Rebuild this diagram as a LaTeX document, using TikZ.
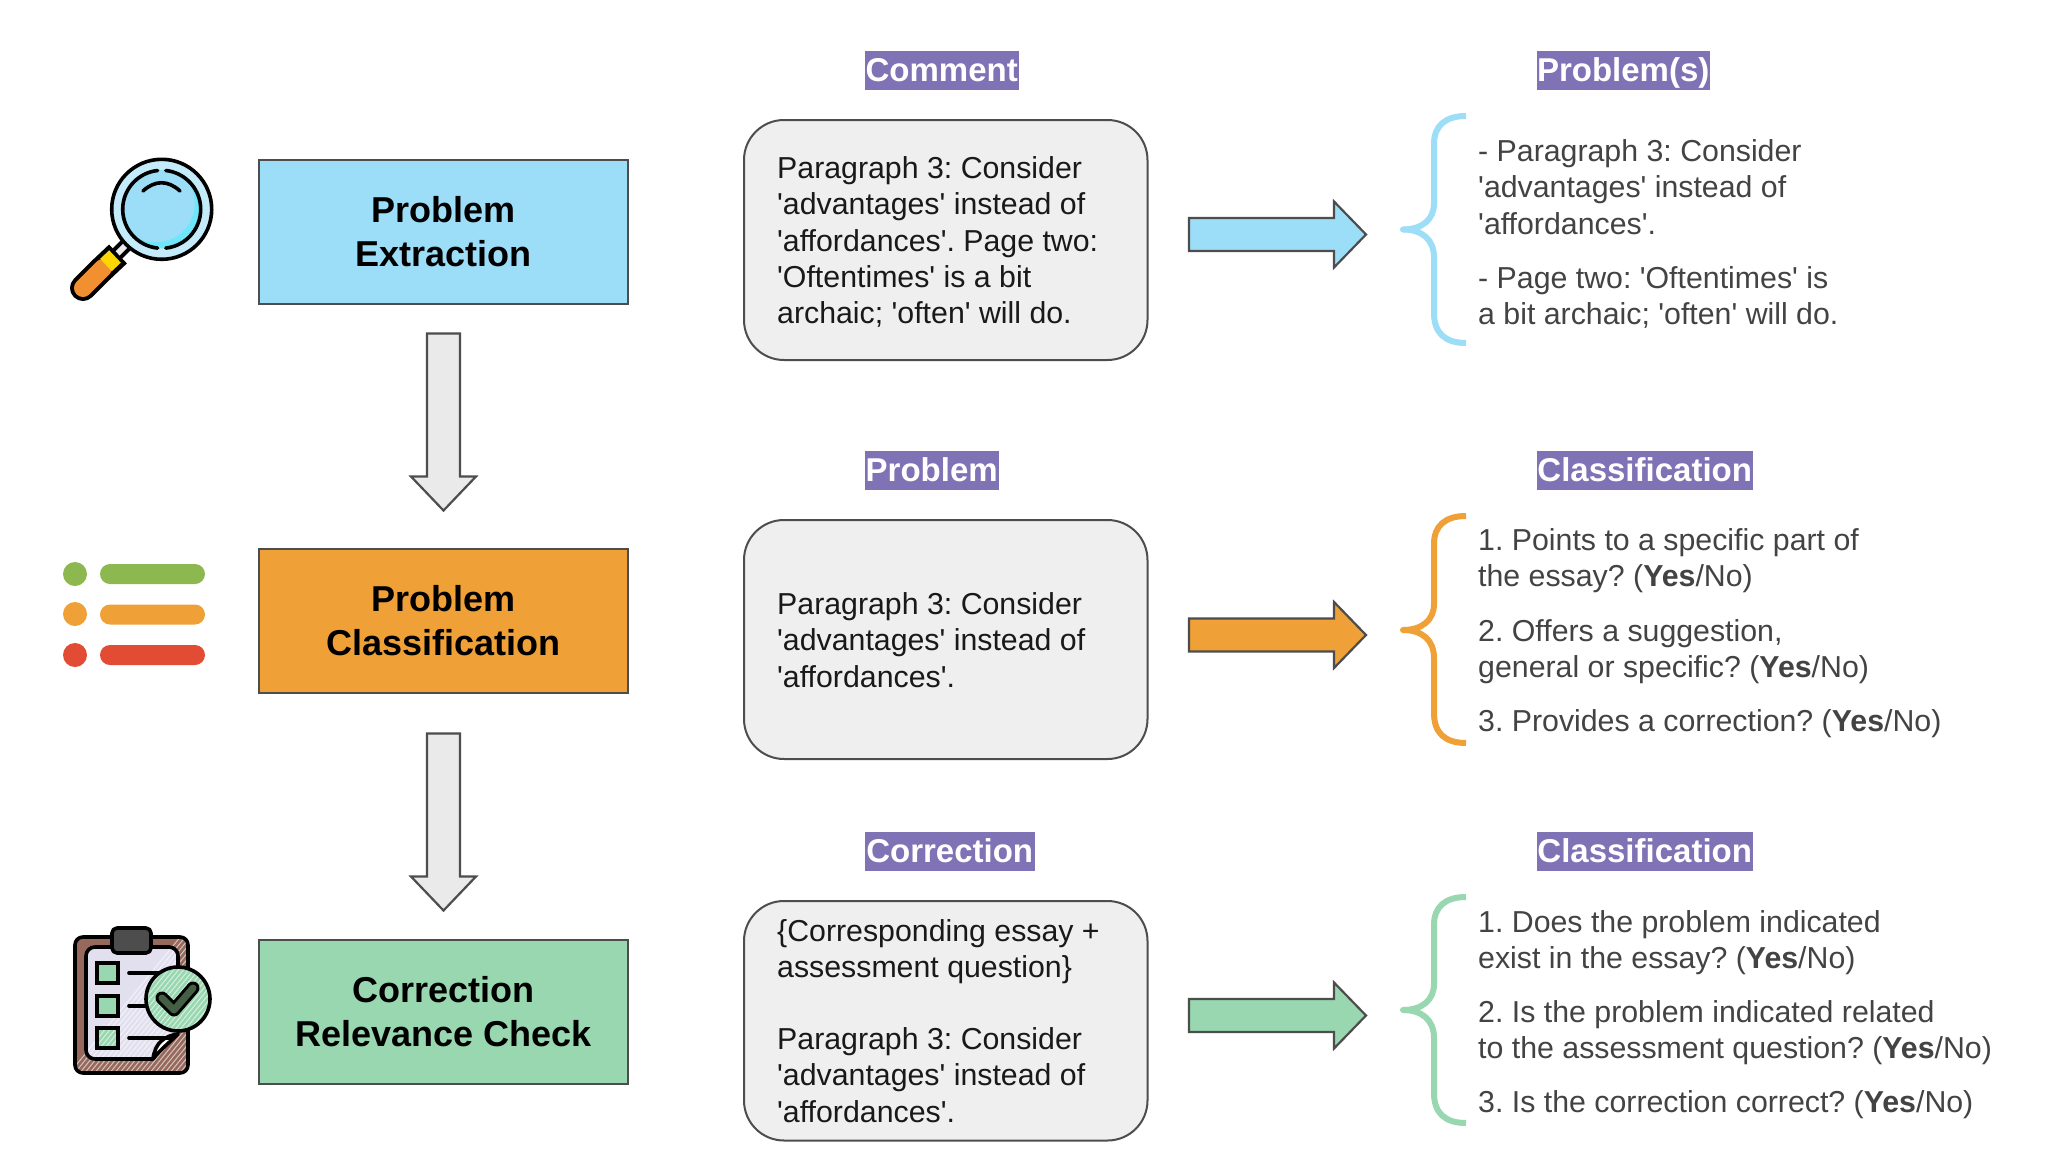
\documentclass[tikz,border=0pt]{standalone}
\usepackage{fontspec}
\newfontfamily\lib{Liberation Sans}
\frenchspacing
\definecolor{cblue}{HTML}{9CDDF7}
\definecolor{corange}{HTML}{EFA036}
\definecolor{cgreen}{HTML}{98D7B0}
\definecolor{cpurple}{HTML}{7F72B5}
\definecolor{cgrey}{HTML}{EAEAEA}
\definecolor{cline}{HTML}{4D4D4D}
\definecolor{ctext}{HTML}{434343}
\definecolor{cbrown}{HTML}{96695C}
\definecolor{cpaper}{HTML}{E2E0EF}
\definecolor{cleaf}{HTML}{8DB84F}
\definecolor{cred}{HTML}{E34C34}
\tikzset{
  stagebox/.style={draw=cline,line width=2.4pt,minimum width=369pt,minimum height=144pt,inner sep=0pt,align=center,
    font=\lib\bfseries\fontsize{36}{44}\selectfont,text=black},
  bubble/.style={draw=cline,line width=2pt,fill=cgrey!75!white,rounded corners=40pt,inner sep=0pt},
  tag/.style={fill=cpurple,text=white,inner sep=0pt,minimum height=39pt,text height=27pt,text depth=6pt,anchor=west,
    font=\lib\bfseries\fontsize{33}{39}\selectfont},
  midtext/.style={anchor=north west,inner sep=0pt,align=left,text=black!90,
    font=\lib\fontsize{30.3}{36.2}\selectfont},
  sidetext/.style={anchor=north west,inner sep=0pt,align=left,text=ctext,
    font=\lib\fontsize{30.3}{36.2}\selectfont},
  blockarrow/.style={draw=cline,line width=2.2pt,line join=miter},
  bracket/.style={line width=6pt},
  ink/.style={draw=black,line width=3.6pt,line join=round,line cap=round},
}
\newcommand{\rightblock}[2]{\draw[blockarrow,fill=#1] (1189,#2-16.5) -- (1334,#2-16.5) -- (1334,#2-33) -- (1366,#2) -- (1334,#2+33) -- (1334,#2+16.5) -- (1189,#2+16.5) -- cycle;}
\newcommand{\downblock}[2]{\draw[blockarrow,fill=cgrey] (427,#1) -- (460,#1) -- (460,#2-34) -- (476,#2-34) -- (443.5,#2) -- (411,#2-34) -- (427,#2-34) -- cycle;}
\newcommand{\sidebrace}[4]{\draw[bracket,draw=#1] (1466,#2) .. controls (1445,#2) and (1434,#2+10) .. (1434,#2+28) -- (1434,#3-26) .. controls (1434,#3-10) and (1422,#3) .. (1403,#3) .. controls (1422,#3) and (1434,#3+10) .. (1434,#3+28) -- (1434,#4-30) .. controls (1434,#4-10) and (1445,#4) .. (1466,#4);
  \fill[#1] (1403,#3) circle (3pt);}
\newcommand{\hatchlines}{\foreach \i in {0,5,...,260}{\draw[white,opacity=.6,line width=1pt] (60+\i,1085) -- (60+\i+130,925);}}
\begin{document}
\begin{tikzpicture}[x=1pt,y=-1pt]
\useasboundingbox (0,0) rectangle (2046,1154);
\fill[white] (0,0) rectangle (2046,1154);

% stage boxes
\node[stagebox,fill=cblue] (extract) at (443.5,232) {Problem\\Extraction};
\node[stagebox,fill=corange] (classify) at (443.5,621) {Problem\\Classification};
\node[stagebox,fill=cgreen] (relevance) at (443.5,1012) {Correction\\Relevance Check};
\downblock{333.5}{510.5}
\downblock{733.5}{910.5}

% bubbles
\draw[bubble] (744,120) rectangle (1147.5,360);
\draw[bubble] (744,520) rectangle (1147.5,759);
\draw[bubble] (744,901) rectangle (1147.5,1140.5);
\node[midtext] (t1) at (777,156.5) {Paragraph 3: Consider\\'advantages' instead of\\'affordances'. Page two:\\'Oftentimes' is a bit\\archaic; 'often' will do.};
\node[midtext] (t2) at (777,592.5) {Paragraph 3: Consider\\'advantages' instead of\\'affordances'.};
\node[midtext] (t3) at (777,919) {\{Corresponding essay +\\assessment question\}\\[36.2pt]Paragraph 3: Consider\\'advantages' instead of\\'affordances'.};

% tags
\node[tag,minimum width=154pt] (l1) at (864.5,70.5) {Comment};
\node[tag,minimum width=134pt] (l2) at (864.5,470.5) {Problem};
\node[tag,minimum width=170pt] (l3) at (864.5,851.5) {Correction};
\node[tag,minimum width=173pt] (r1) at (1536.5,70.5) {Problem(s)};
\node[tag,minimum width=216pt] (r2) at (1536.5,470.5) {Classification};
\node[tag,minimum width=216pt] (r3) at (1536.5,851.5) {Classification};

% right arrows and braces
\rightblock{cblue}{234.5}
\rightblock{corange}{635}
\rightblock{cgreen}{1015.5}
\sidebrace{cblue}{116}{229.5}{343}
\sidebrace{corange}{516}{630}{743}
\sidebrace{cgreen}{897}{1010}{1123}

% right texts
\node[sidetext] (s1) at (1478,139.5) {- Paragraph 3: Consider\\'advantages' instead of\\'affordances'.\\[18pt]- Page two: 'Oftentimes' is\\a bit archaic; 'often' will do.};
\node[sidetext] (s2) at (1478,528.5) {1. Points to a specific part of\\the essay? (\textbf{Yes}/No)\\[18pt]2. Offers a suggestion,\\general or specific? (\textbf{Yes}/No)\\[18pt]3. Provides a correction? (\textbf{Yes}/No)};
\node[sidetext] (s3) at (1478,910) {1. Does the problem indicated\\exist in the essay? (\textbf{Yes}/No)\\[18pt]2. Is the problem indicated related\\to the assessment question? (\textbf{Yes}/No)\\[18pt]3. Is the correction correct? (\textbf{Yes}/No)};

% magnifier icon
\draw[black,line width=14pt] (117,254) -- (128,243);
\draw[cgrey,line width=6pt] (117,254) -- (128,243);
\draw[black,line width=26pt,line cap=round] (83,288) -- (101,270);
\draw[black,line width=26pt] (101,270) -- (118,254);
\draw[corange!90!red,line width=18pt,line cap=round] (83,288) -- (103,268);
\draw[yellow!75!orange,line width=17pt] (106,265) -- (115,256.5);
\draw[ink,fill=cblue!60!white] (161.7,209.3) circle (50pt);
\begin{scope}
\clip (161.7,209.3) circle (39pt);
\fill[cblue!70!cyan] (161.7,209.3) circle (39pt);
\fill[cblue] (155.7,203.3) circle (39pt);
\end{scope}
\draw[ink] (161.7,209.3) ++(96:39) arc (96:264:39);
\draw[ink] (161.7,209.3) ++(84:39) arc (84:-84:39);
\draw[ink] (143,191) .. controls (155,180) and (168,180) .. (180,191);

% list icon
\fill[cleaf] (75,574) circle (12pt);
\fill[corange] (75,614) circle (12pt);
\fill[cred] (75,655) circle (12pt);
\fill[cleaf,rounded corners=10pt] (100,564) rectangle (205,584);
\fill[corange,rounded corners=10pt] (100,604.5) rectangle (205,624.5);
\fill[cred,rounded corners=10pt] (100,645) rectangle (205,665);

% clipboard icon
\begin{scope}
\clip[rounded corners=8pt] (75,937) rectangle (188,1073);
\fill[cbrown] (75,937) rectangle (188,1073);
\hatchlines
\end{scope}
\draw[ink,rounded corners=8pt] (75,937) rectangle (188,1073);
\begin{scope}
\clip[rounded corners=9pt] (86,947) -- (178,947) -- (178,1034) -- (153,1059) -- (86,1059) -- cycle;
\fill[cpaper] (80,940) rectangle (185,1065);
\hatchlines
\end{scope}
\draw[ink,rounded corners=9pt] (178,990) -- (178,947) -- (86,947) -- (86,1059) -- (153,1059);
\draw[ink,fill=white] (178,1034) .. controls (165,1036) and (155,1042) .. (153,1059) .. controls (160,1050) and (170,1042) .. (178,1034);
\begin{scope}
\clip[rounded corners=5pt] (112,928) rectangle (151,953);
\fill[cline] (112,928) rectangle (151,953);
\hatchlines
\end{scope}
\draw[ink,rounded corners=5pt] (112,928) rectangle (151,953);
\foreach \yy in {963,996,1028}{
  \begin{scope}
  \clip (97,\yy) rectangle (118,\yy+20);
  \fill[cgreen] (97,\yy) rectangle (118,\yy+20);
  \hatchlines
  \end{scope}
  \draw[ink,line join=miter] (97,\yy) rectangle (118,\yy+20);
}
\draw[ink] (129,973) -- (165,973);
\draw[ink] (129,1006) -- (150,1006);
\draw[ink] (129,1038) -- (170,1038);
\begin{scope}
\clip (178,999) circle (32pt);
\fill[cgreen] (178,999) circle (32pt);
\hatchlines
\end{scope}
\draw[ink] (178,999) circle (32pt);
\draw[black,line width=13pt,line cap=round,line join=round] (162,998) -- (174,1010) -- (193,988);
\draw[cline!90!green,line width=7pt,line cap=round,line join=round] (162,998) -- (174,1010) -- (193,988);
\end{tikzpicture}
\end{document}
